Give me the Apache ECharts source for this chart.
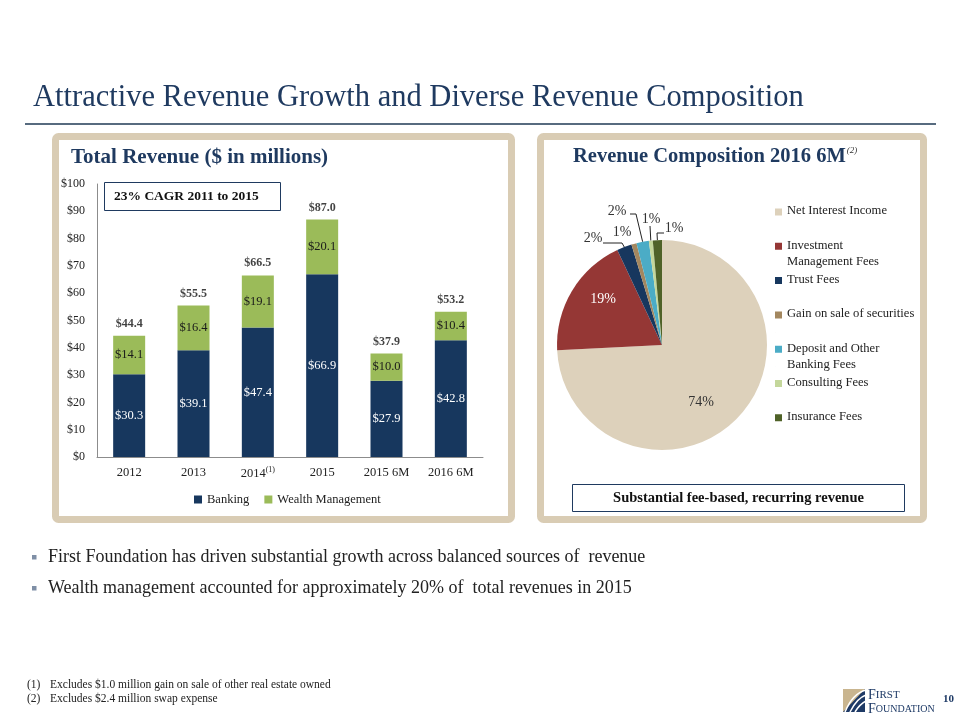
<!DOCTYPE html>
<html><head><meta charset="utf-8">
<script src="https://cdn.jsdelivr.net/npm/echarts@6/dist/echarts.min.js"></script>
<style>html,body{margin:0;padding:0;background:#fff}#c{width:960px;height:720px}</style>
</head><body><div id="c"></div>
<script>
// ---- data ----
const categories = ['2012', '2013', '2014', '2015', '2015 6M', '2016 6M'];
const banking = [30.3, 39.1, 47.4, 66.9, 27.9, 42.8];
const wealth = [14.1, 16.4, 19.1, 20.1, 10.0, 10.4];
const totals = [44.4, 55.5, 66.5, 87.0, 37.9, 53.2];
const barSeriesNames = ['Banking', 'Wealth Management'];
const pieNames = ['Net Interest Income', 'Investment Management Fees', 'Trust Fees', 'Gain on sale of securities', 'Deposit and Other Banking Fees', 'Consulting Fees', 'Insurance Fees'];
const pieValues = [74.2, 18.8, 2.3, 0.8, 1.9, 0.6, 1.4];

// ---- styles ----
const F = 'Liberation Serif';
const NAVY = '#1F3A60';
const BEIGE = '#D9CCB4';
const pieColors = ['#DDD1BB', '#953735', '#17375E', '#A3875F', '#4BACC6', '#C4D79B', '#4F6228'];
const legendText = {
  'Investment Management Fees': 'Investment\nManagement Fees',
  'Deposit and Other Banking Fees': 'Deposit and Other\nBanking Fees'
};
const pieCx = 662, pieCy = 345, pieR = 105;
// label placement relative to pie centre
const pieLabelAt = [
  {at: [39, 57]},
  {at: [-59, -46]},
  {at: [-69, -107], line: [[-40, -102], [-59, -102]]},
  {at: [-40, -113]},
  {at: [-45, -134], line: [[-26, -131], [-32, -131]]},
  {at: [-11, -126], line: [[-12, -119], [-12, -119]]},
  {at: [12, -117], line: [[-5, -112], [2, -112]]}
];

const chart = echarts.init(document.getElementById('c'), null, {renderer: 'canvas'});

const pieData = pieNames.map((n, i) => {
  const inside = i < 2;
  return {
    name: n, value: pieValues[i],
    itemStyle: {color: pieColors[i]},
    label: {
      position: inside ? 'inside' : 'outside',
      color: i === 1 ? '#ffffff' : '#333333'
    },
    labelLine: {show: !!pieLabelAt[i].line}
  };
});

const graphics = [
  // page title
  {type: 'text', left: 33, top: 82, style: {text: 'Attractive Revenue Growth and Diverse Revenue Composition', font: '30.5px "' + F + '"', fill: NAVY}},
  {type: 'line', shape: {x1: 25, y1: 124, x2: 936, y2: 124}, style: {stroke: '#1F3A55', lineWidth: 1.5}},
  // panels
  {type: 'rect', z: 0, shape: {x: 55.5, y: 136.5, width: 456, height: 383, r: 3}, style: {fill: 'none', stroke: BEIGE, lineWidth: 7}},
  {type: 'rect', z: 0, shape: {x: 540.5, y: 136.5, width: 383, height: 383, r: 3}, style: {fill: 'none', stroke: BEIGE, lineWidth: 7}},
  // panel titles
  {type: 'text', left: 71, top: 147, style: {text: 'Total Revenue ($ in millions)', font: 'bold 21px "' + F + '"', fill: NAVY}},
  {type: 'text', left: 573, top: 146, style: {
    text: '{t|Revenue Composition 2016 6M}{s|(2)}',
    rich: {
      t: {font: 'bold 20.5px "' + F + '"', fill: NAVY, verticalAlign: 'bottom'},
      s: {font: 'italic 9px "' + F + '"', fill: '#333', verticalAlign: 'top', padding: [0, 0, 12, 1]}
    }}},
  // CAGR box
  {type: 'rect', shape: {x: 104.5, y: 182.5, width: 176, height: 28}, style: {fill: '#fff', stroke: NAVY, lineWidth: 1}, z: 5},
  {type: 'text', x: 114, y: 196.5, z: 6, style: {text: '23% CAGR 2011 to 2015', font: 'bold 13.5px "' + F + '"', fill: '#111', verticalAlign: 'middle'}},
  // fee box
  {type: 'rect', shape: {x: 572.5, y: 484.5, width: 332, height: 27}, style: {fill: '#fff', stroke: NAVY, lineWidth: 1}},
  {type: 'text', x: 738.5, y: 498.5, style: {text: 'Substantial fee-based, recurring revenue', font: 'bold 14.5px "' + F + '"', fill: '#111', align: 'center', verticalAlign: 'middle'}},
  // bullets
  {type: 'rect', shape: {x: 32, y: 555, width: 4.5, height: 4.5}, style: {fill: '#7F8FA6'}},
  {type: 'text', x: 48, y: 557.5, style: {text: 'First Foundation has driven substantial growth across balanced sources of  revenue', font: '18px "' + F + '"', fill: '#222', verticalAlign: 'middle'}},
  {type: 'rect', shape: {x: 32, y: 586, width: 4.5, height: 4.5}, style: {fill: '#7F8FA6'}},
  {type: 'text', x: 48, y: 588.5, style: {text: 'Wealth management accounted for approximately 20% of  total revenues in 2015', font: '18px "' + F + '"', fill: '#222', verticalAlign: 'middle'}},
  // footnotes
  {type: 'text', x: 27, y: 685, style: {text: '(1)', font: '11.5px "' + F + '"', fill: '#222', verticalAlign: 'middle'}},
  {type: 'text', x: 50, y: 685, style: {text: 'Excludes $1.0 million gain on sale of other real estate owned', font: '11.5px "' + F + '"', fill: '#222', verticalAlign: 'middle'}},
  {type: 'text', x: 27, y: 699, style: {text: '(2)', font: '11.5px "' + F + '"', fill: '#222', verticalAlign: 'middle'}},
  {type: 'text', x: 50, y: 699, style: {text: 'Excludes $2.4 million swap expense', font: '11.5px "' + F + '"', fill: '#222', verticalAlign: 'middle'}},
  // logo
  {type: 'rect', shape: {x: 843, y: 689, width: 22, height: 23}, style: {fill: '#1E3A66'}},
  {type: 'polygon', shape: {points: [[843, 689], [865, 689], [843, 712]]}, style: {fill: '#C9B58F'}},
  {type: 'bezierCurve', shape: {x1: 845, y1: 712, x2: 866, y2: 690, cpx1: 850, cpy1: 700, cpx2: 858, cpy2: 692}, style: {stroke: '#fff', lineWidth: 1.5, fill: 'none'}},
  {type: 'bezierCurve', shape: {x1: 850, y1: 712, x2: 866, y2: 695, cpx1: 854, cpy1: 704, cpx2: 860, cpy2: 697}, style: {stroke: '#fff', lineWidth: 1.5, fill: 'none'}},
  {type: 'bezierCurve', shape: {x1: 855, y1: 712, x2: 866, y2: 701, cpx1: 858, cpy1: 707, cpx2: 862, cpy2: 703}, style: {stroke: '#fff', lineWidth: 1.5, fill: 'none'}},
  {type: 'text', x: 868, y: 695, style: {text: '{b|F}{s|IRST}', rich: {b: {font: '14px "' + F + '"', fill: '#1E3A66'}, s: {font: '11px "' + F + '"', fill: '#1E3A66'}}, verticalAlign: 'middle'}},
  {type: 'text', x: 868, y: 709, style: {text: '{b|F}{s|OUNDATION}', rich: {b: {font: '14px "' + F + '"', fill: '#1E3A66'}, s: {font: '10px "' + F + '"', fill: '#1E3A66'}}, verticalAlign: 'middle'}},
  {type: 'text', x: 943, y: 699, style: {text: '10', font: 'bold 11px "' + F + '"', fill: '#1E3A66', verticalAlign: 'middle'}}
];

const option = {
  animation: false,
  backgroundColor: '#ffffff',
  textStyle: {fontFamily: F},
  graphic: graphics,
  grid: {left: 97, right: 477, top: 184, bottom: 263, containLabel: false},
  legend: [
    {
      data: barSeriesNames, left: 194, top: 493, padding: 0, itemWidth: 8, itemHeight: 8, itemGap: 15,
      icon: 'rect', textStyle: {fontFamily: F, fontSize: 12.5, color: '#222'}
    },
    {
      data: pieNames, orient: 'vertical', left: 775, top: 203, padding: 0,
      itemWidth: 7, itemHeight: 21, itemGap: 2.3,
      icon: 'path://M0,0H7V7H0Z M0,20.9H0.1V21H0Z',
      formatter: n => legendText[n] || (n + '\n '),
      textStyle: {fontFamily: F, fontSize: 12.6, color: '#222', lineHeight: 16}
    }
  ],
  xAxis: {
    type: 'category', data: categories,
    axisLine: {lineStyle: {color: '#8C8C8C'}}, axisTick: {show: false},
    axisLabel: {
      interval: 0, margin: 9, color: '#222', fontFamily: F, fontSize: 12.5,
      formatter: v => v === '2014' ? '{a|2014}{s|(1)}' : v,
      rich: {a: {fontSize: 12.5, fontFamily: F, color: '#222', lineHeight: 15}, s: {fontSize: 8, fontFamily: F, color: '#222', verticalAlign: 'top', padding: [0, 0, 8, 0]}}
    }
  },
  yAxis: {
    type: 'value', min: 0, max: 100, interval: 10,
    axisLine: {show: true, lineStyle: {color: '#8C8C8C'}}, axisTick: {show: false},
    splitLine: {show: false},
    axisLabel: {margin: 12, color: '#222', fontFamily: F, fontSize: 12, formatter: v => '$' + v}
  },
  series: [
    {
      name: 'Banking', type: 'bar', stack: 'rev', barWidth: 32, data: banking,
      itemStyle: {color: '#17375E'},
      label: {show: true, position: 'inside', color: '#fff', fontFamily: F, fontSize: 12.5, formatter: p => '$' + p.value.toFixed(1)}
    },
    {
      name: 'Wealth Management', type: 'bar', stack: 'rev', barWidth: 32, data: wealth,
      itemStyle: {color: '#9BBB59'},
      label: {show: true, position: 'inside', color: '#1a1a1a', fontFamily: F, fontSize: 12.5, formatter: p => '$' + p.value.toFixed(1)}
    },
    {
      name: 'Total', type: 'scatter', data: totals, symbolSize: 0.1, silent: true,
      itemStyle: {color: 'rgba(0,0,0,0)'},
      label: {show: true, position: 'top', distance: 6, color: '#111', fontFamily: F, fontSize: 12, fontWeight: 'bold', formatter: p => '$' + p.value.toFixed(1)}
    },
    {
      name: 'Composition', type: 'pie', center: [pieCx, pieCy], radius: [0, pieR],
      startAngle: 90, clockwise: true, avoidLabelOverlap: false,
      data: pieData,
      label: {show: true, fontFamily: F, fontSize: 14, formatter: p => Math.round(p.percent) + '%'},
      labelLine: {length: 8, length2: 8, lineStyle: {color: '#222', width: 1}},
      labelLayout: params => {
        const d = pieLabelAt[params.dataIndex];
        const res = {x: pieCx + d.at[0], y: pieCy + d.at[1], align: 'center', verticalAlign: 'middle'};
        if (d.line && params.labelLinePoints) {
          const p0 = params.labelLinePoints[0];
          res.labelLinePoints = [p0].concat(d.line.map(q => [pieCx + q[0], pieCy + q[1]]));
        }
        return res;
      }
    }
  ]
};
chart.setOption(option);
</script></body></html>
